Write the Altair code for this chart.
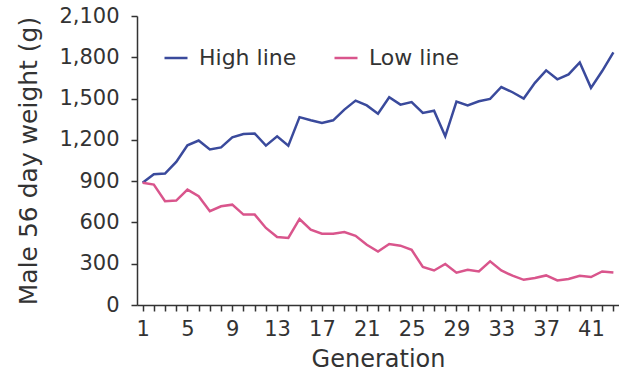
import altair as alt
import pandas as pd

generations = list(range(1, 44))
high_line = [888, 950, 955, 1040, 1160, 1195, 1130, 1145, 1218, 1242, 1246, 1158, 1226, 1158,
             1365, 1342, 1323, 1342, 1420, 1485, 1450, 1390, 1510, 1456, 1475, 1396, 1412, 1226,
             1478, 1450, 1480, 1498, 1584, 1546, 1500, 1614, 1705, 1640, 1676, 1763, 1578, 1700, 1836]
low_line = [888, 875, 754, 759, 838, 790, 682, 717, 729, 657, 657, 560, 494, 487,
            625, 547, 518, 518, 530, 503, 438, 389, 443, 431, 401, 276, 251, 298,
            235, 256, 244, 317, 251, 213, 183, 196, 215, 178, 189, 213, 203, 244, 237]
series_names = ["High line", "Low line"]
series_colors = ["#3a4a9c", "#d9558c"]
x_labels = [1, 5, 9, 13, 17, 21, 25, 29, 33, 37, 41]
y_ticks = [0, 300, 600, 900, 1200, 1500, 1800, 2100]

rows = []
for g, h, l in zip(generations, high_line, low_line):
    rows.append({"Generation": g, "Weight": h, "Line": series_names[0]})
    rows.append({"Generation": g, "Weight": l, "Line": series_names[1]})
df = pd.DataFrame(rows)

font = "DejaVu Sans"
ink = "#333333"
label_test = " || ".join(f"datum.value == {v}" for v in x_labels)

axis_style = dict(domainColor=ink, tickColor=ink, domainWidth=1.5, tickWidth=1.5,
                  labelColor=ink, titleColor=ink, labelFont=font, titleFont=font,
                  labelFontSize=21, titleFontWeight="normal",
                  grid=False, tickSize=6)

chart = alt.Chart(df).mark_line(strokeWidth=2.5).encode(
    x=alt.X("Generation:Q",
            scale=alt.Scale(domain=[0.5, 43.5], nice=False, zero=False),
            axis=alt.Axis(values=generations, labelExpr=f"({label_test}) ? datum.label : ''",
                          title="Generation", labelPadding=7, titlePadding=8, titleFontSize=24,
                          labelFlush=False, labelOverlap=False, **axis_style)),
    y=alt.Y("Weight:Q",
            scale=alt.Scale(domain=[0, 2100], nice=False),
            axis=alt.Axis(values=y_ticks, format=",d", title="Male 56 day weight (g)",
                          labelPadding=12, titlePadding=17, titleFontSize=25, **axis_style)),
    color=alt.Color("Line:N",
                    scale=alt.Scale(domain=series_names, range=series_colors),
                    legend=alt.Legend(title=None, orient="none", legendX=26, legendY=29,
                                      direction="horizontal", symbolType="stroke",
                                      symbolSize=529, symbolStrokeWidth=2.5,
                                      labelFontSize=22, labelFont=font, labelColor=ink,
                                      labelOffset=10, columnPadding=32)),
).properties(
    width=482, height=289,
    padding={"left": 137, "top": 16, "right": 0, "bottom": 73},
    autosize=alt.AutoSizeParams(type="none"),
    background="white",
).configure_view(
    stroke=None
)

chart.save("out.html", embed_options={"renderer": "svg", "actions": False})
